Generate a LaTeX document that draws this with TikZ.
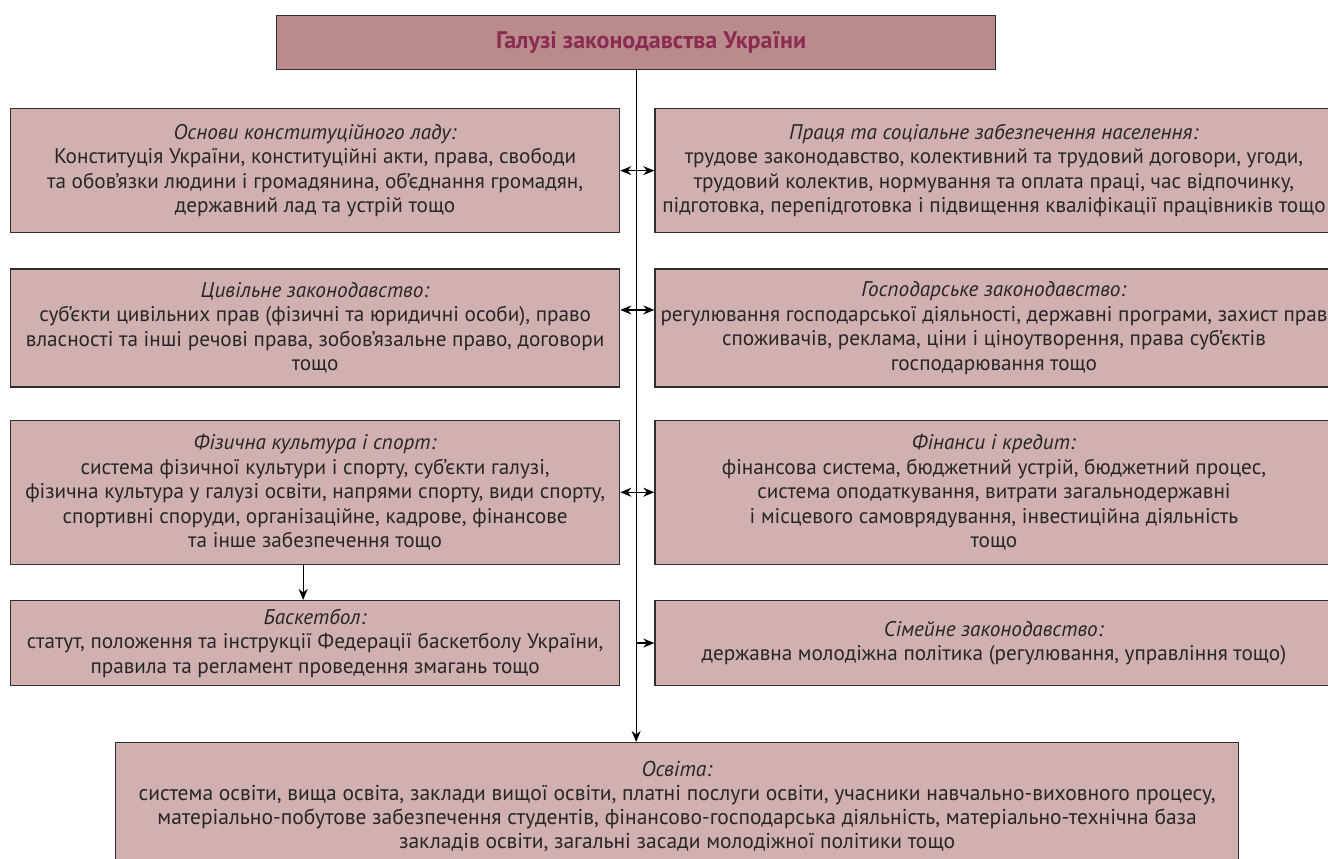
\documentclass[tikz,border=0pt]{standalone}
\usepackage{fontspec}
\setmainfont{PT Sans}
\usetikzlibrary{arrows.meta,positioning}
\definecolor{boxfill}{HTML}{D1B1B0}
\definecolor{headfill}{HTML}{B98B8B}
\definecolor{headtext}{HTML}{8B2A52}
\definecolor{rim}{HTML}{303030}

\begin{document}
\begin{tikzpicture}[->,>={Stealth[length=11pt,width=9pt]},x=1pt,y=-1pt,line width=1.3pt,
                    branch/.style={draw=rim,fill=boxfill,align=center,inner sep=0pt,
                                   text=black!85,font=\fontsize{21.2}{24.5}\selectfont},
                    head/.style={branch,fill=headfill,text=headtext,
                                 font=\fontsize{24}{26}\selectfont\bfseries},
                    lwide/.style={minimum width=609pt},
                    rwide/.style={minimum width=678pt}]

	\clip (0,0) rectangle (1328,859);

	\node[head,minimum width=719pt,minimum height=54pt,anchor=north west] (top) at (276,15)
		{\hspace*{30pt}Галузі законодавства України};

	\node[branch,lwide,minimum height=124pt,anchor=north west] (con) at (10,108)
		{\textit{Основи конституційного ладу:}\\
		 Конституція України, конституційні акти, права, свободи\\
		 та обов'язки людини і громадянина, об’єднання громадян,\\
		 державний лад та устрій тощо};
	\node[branch,rwide,minimum height=124pt] (lab) [right=34pt of con]
		{\textit{Праця та соціальне забезпечення населення:}\\
		 трудове законодавство, колективний та трудовий договори, угоди,\\
		 трудовий колектив, нормування та  оплата праці, час відпочинку,\\
		 підготовка, перепідготовка і підвищення  кваліфікації працівників тощо};

	\node[branch,lwide,minimum height=118pt] (civ) [below=35pt of con]
		{\textit{Цивільне законодавство:}\\
		 суб'єкти цивільних прав (фізичні та юридичні особи), право\\
		 власності та інші речові права, зобов'язальне право, договори\\
		 тощо};
	\node[branch,rwide,minimum height=118pt] (eco) [right=34pt of civ]
		{\textit{Господарське законодавство:}\\
		 регулювання господарської діяльності, державні програми, захист прав\\
		 споживачів, реклама, ціни і ціноутворення, права суб’єктів\\
		 господарювання тощо};

	\node[branch,lwide,minimum height=144pt] (sport) [below=32pt of civ]
		{\textit{Фізична культура і спорт:}\\
		 система фізичної культури і спорту, суб’єкти галузі,\\
		 фізична культура у галузі освіти, напрями спорту, види спорту,\\
		 спортивні споруди, організаційне, кадрове, фінансове\\
		 та інше забезпечення тощо};
	\node[branch,rwide,minimum height=144pt] (fin) [right=34pt of sport]
		{\textit{Фінанси і кредит:}\\
		 фінансова система, бюджетний устрій, бюджетний процес,\\
		 система оподаткування, витрати загальнодержавні\\
		 і місцевого самоврядування, інвестиційна діяльність\\
		 тощо};

	\node[branch,lwide,minimum height=85pt] (bask) [below=35pt of sport]
		{\textit{Баскетбол:}\\
		 статут, положення та інструкції  Федерації баскетболу України,\\
		 правила та регламент проведення змагань тощо};
	\node[branch,rwide,minimum height=85pt] (fam) [right=34pt of bask]
		{\textit{Сімейне законодавство:}\\
		 державна молодіжна політика (регулювання, управління тощо)};

	\node[branch,minimum width=1123pt,minimum height=128pt,anchor=north west,
	      font=\fontsize{21.5}{24}\selectfont] (edu) at (115,742)
		{\textit{Освіта:}\\
		 система освіти, вища освіта, заклади вищої освіти, платні послуги освіти, учасники навчально-виховного процесу,\\
		 матеріально-побутове забезпечення студентів, фінансово-господарська діяльність, матеріально-технічна база\\
		 закладів освіти, загальні засади молодіжної політики тощо};

	\path (top.south) edge (top.south |- edu.north);
	\path (con) edge[<->] (lab);
	\path ([yshift=18pt]civ.east) edge[<->] ([yshift=18pt]eco.west);
	\path (sport) edge[<->] (fin);
	\path (top.south |- fam.west) edge (fam.west);
	\path ([xshift=-12pt]sport.south) edge ([xshift=-12pt]bask.north);

\end{tikzpicture}
\end{document}
